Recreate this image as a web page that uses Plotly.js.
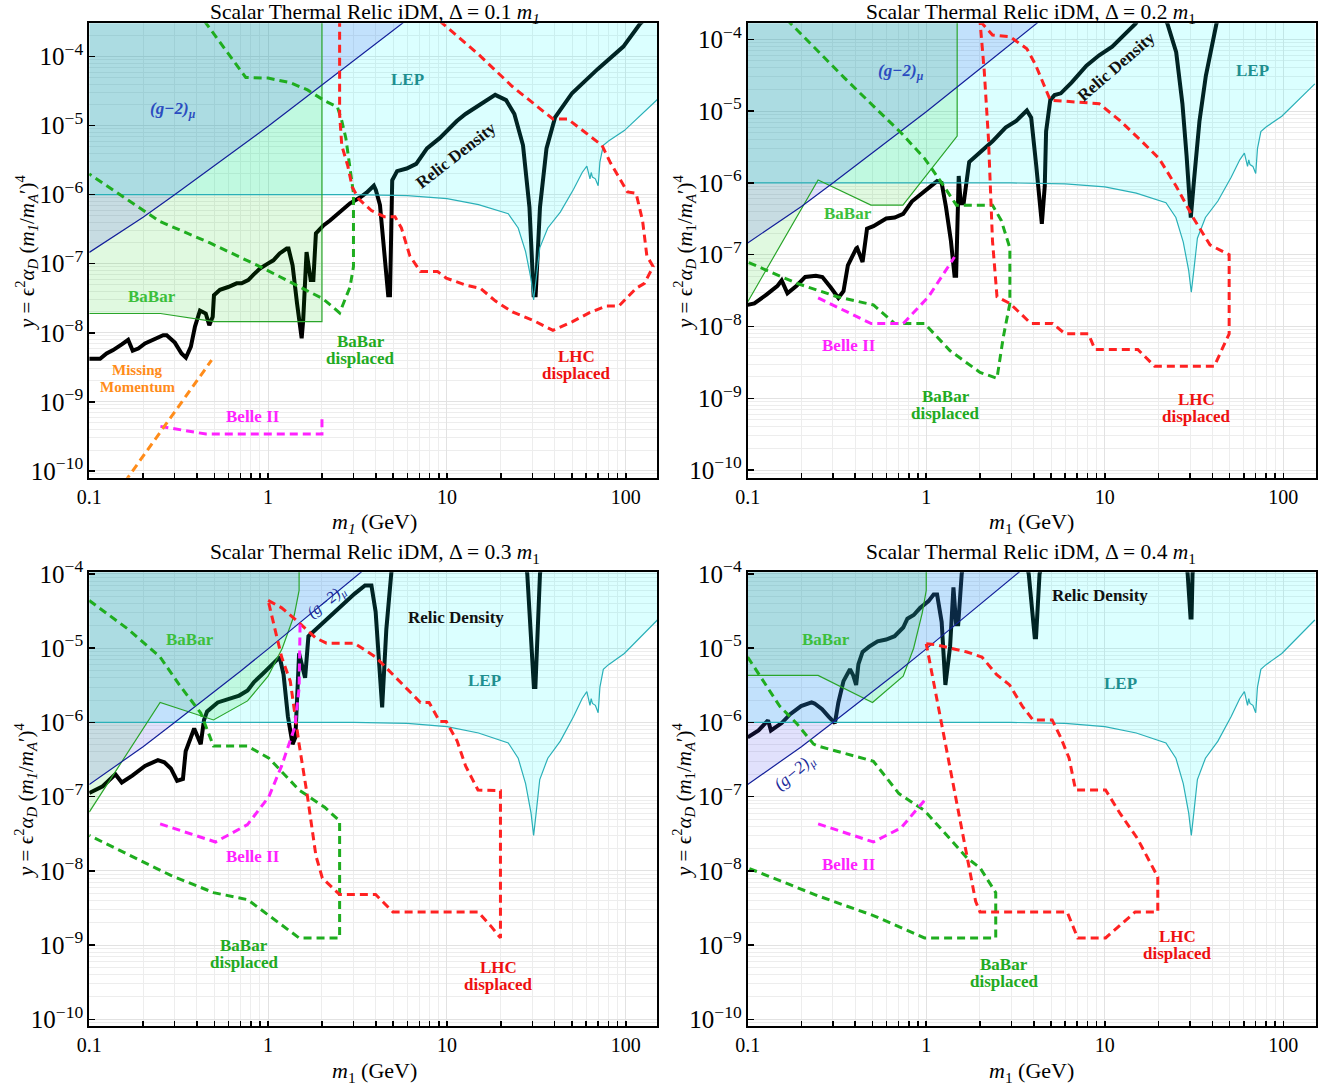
<!DOCTYPE html>
<html>
<head>
<meta charset="utf-8">
<script src="https://cdn.plot.ly/plotly-3.0.1.min.js"></script>
<style>
  html, body { margin: 0; padding: 0; background: #fff; }
  #chart { width: 1338px; height: 1089px; }
</style>
</head>
<body>
<div id="chart"></div>
<script>
// ---------- shared bounds (GeV, y) ----------
const lepMass = [0.1, 3, 6, 10, 15, 19, 22, 25, 27.5, 29.5, 30.5, 31.5, 33, 36.6, 43, 51, 57, 60.5, 62, 63, 64, 65, 67.5, 70, 71.6, 74.8, 80, 98, 150];
const lepY    = [1e-6, 1e-6, 9.7e-7, 8.8e-7, 7.2e-7, 6.0e-7, 5.3e-7, 3.3e-7, 1.5e-7, 6e-8, 3e-8, 6e-8, 1.7e-7, 3.3e-7, 5.6e-7, 1.2e-6, 2.1e-6, 2.6e-6, 2.1e-6, 1.7e-6, 2.1e-6, 1.8e-6, 1.7e-6, 1.35e-6, 3.0e-6, 5.2e-6, 6.0e-6, 8.5e-6, 2.4e-5];

const gm2Mass = [0.1, 0.15, 0.2, 0.3, 0.5, 0.7, 1, 2, 3, 5, 7];
const gm2Y    = [1.46e-7, 2.9e-7, 4.7e-7, 1.0e-6, 2.6e-6, 4.9e-6, 9.8e-6, 3.9e-5, 8.7e-5, 2.4e-4, 4.7e-4];

// ---------- Delta = 0.1 m1 ----------
const rel1X = [0.1, 0.115, 0.125, 0.136, 0.152, 0.165, 0.175, 0.188, 0.205, 0.233, 0.259, 0.271, 0.301, 0.328, 0.347, 0.37, 0.39, 0.416, 0.448, 0.469, 0.49, 0.498, 0.538, 0.598, 0.667, 0.711, 0.774, 0.826, 0.90, 0.98, 1.07, 1.16, 1.27, 1.30, 1.37, 1.45, 1.54, 1.57, 1.64, 1.73, 1.79, 1.85, 2.03, 2.21, 2.41, 2.63, 2.87, 3.26, 3.55, 3.90, 4.0, 4.22, 4.43, 4.69, 4.80, 4.94, 5.26, 5.95, 6.73, 7.73, 9.1, 10.2, 11.35, 12.7, 14.1, 15.8, 18.6, 21.4, 23.8, 26.6, 28.9, 30.5, 31.3, 33.1, 36.0, 40.2, 50.0, 69.5, 96.8, 120, 135];
const rel1Y = [4.2e-9, 4.2e-9, 5.0e-9, 5.6e-9, 6.8e-9, 7.9e-9, 5.5e-9, 5.9e-9, 7.0e-9, 8.1e-9, 9.2e-9, 9.2e-9, 7.2e-9, 5.0e-9, 4.35e-9, 6.3e-9, 1.23e-8, 2.1e-8, 1.9e-8, 1.29e-8, 1.7e-8, 3.5e-8, 4.2e-8, 4.6e-8, 5.2e-8, 5.2e-8, 5.8e-8, 6.9e-8, 8.5e-8, 9.8e-8, 1.12e-7, 1.41e-7, 1.66e-7, 1.66e-7, 9.5e-8, 2.7e-8, 8.3e-9, 1.5e-8, 1.48e-7, 5.8e-8, 5.8e-8, 2.76e-7, 3.55e-7, 4.2e-7, 5.1e-7, 6.3e-7, 7.5e-7, 9.1e-7, 1.07e-6, 1.35e-6, 1.17e-6, 7.1e-7, 1.77e-7, 3.5e-8, 3.5e-8, 1.62e-6, 2.2e-6, 2.4e-6, 2.8e-6, 4.7e-6, 6.6e-6, 8.9e-6, 1.17e-5, 1.48e-5, 1.77e-5, 2.2e-5, 2.8e-5, 2.35e-5, 1.48e-5, 5.2e-6, 6.6e-7, 3.5e-8, 3.5e-8, 6.6e-7, 4.7e-6, 1.32e-5, 2.96e-5, 6.6e-5, 1.4e-4, 3.0e-4, 4.0e-4];
const bb1X = [0.1, 0.25, 0.5, 2, 2];
const bb1Y = [1.9e-8, 1.9e-8, 1.45e-8, 1.45e-8, 4e-4];
const bbd1X = [0.44, 0.75, 1.0, 1.33, 1.66, 2.07, 2.44, 2.58, 2.72, 2.87, 3.0, 3.0, 3.0, 2.87, 2.64, 2.51, 2.03, 1.38, 0.9, 0.473, 0.248, 0.1];
const bbd1Y = [3.3e-4, 5.0e-5, 4.9e-5, 4.2e-5, 3.3e-5, 2.3e-5, 1.87e-5, 1.18e-5, 6.6e-6, 2.6e-6, 1.05e-6, 4.2e-7, 9.1e-8, 4.6e-8, 2.6e-8, 1.94e-8, 3.1e-8, 5.2e-8, 9.1e-8, 2.0e-7, 4.1e-7, 2.0e-6];
const lhc1X = [9.1, 14.9, 23.2, 30.5, 39.1, 47.3, 65.9, 73.5, 82, 102, 114, 124, 131, 142, 127, 114, 91.6, 77.7, 62.3, 50.0, 39.1, 30.5, 23.2, 18.6, 15.4, 12.7, 9.9, 8.86, 7.1, 6.2, 5.56, 5.12, 4.46, 3.78, 3.21, 2.95, 2.79, 2.58, 2.51, 2.51];
const lhc1Y = [3.3e-4, 1.1e-4, 3.7e-5, 2.1e-5, 1.25e-5, 1.25e-5, 6.6e-6, 5.2e-6, 2.9e-6, 1.1e-6, 1.05e-6, 4.2e-7, 1.3e-7, 9.1e-8, 5.2e-8, 4.4e-8, 2.45e-8, 2.45e-8, 1.94e-8, 1.44e-8, 1.08e-8, 1.5e-8, 2.0e-8, 2.9e-8, 4.4e-8, 4.9e-8, 6.2e-8, 7.7e-8, 7.7e-8, 1.3e-7, 3.3e-7, 4.8e-7, 4.8e-7, 5.9e-7, 8.7e-7, 1.3e-6, 2.6e-6, 5.2e-6, 1.48e-5, 3.3e-4];
const be1X = [0.25, 0.45, 2.0, 2.0];
const be1Y = [4.4e-10, 3.4e-10, 3.4e-10, 6.5e-10];
const mm1X = [0.158, 0.483];
const mm1Y = [6.9e-11, 4.0e-9];

// ---------- Delta = 0.2 m1 ----------
const rel2X = [0.1, 0.109, 0.128, 0.147, 0.155, 0.167, 0.188, 0.210, 0.241, 0.262, 0.292, 0.322, 0.344, 0.364, 0.406, 0.41, 0.44, 0.466, 0.506, 0.597, 0.666, 0.743, 0.83, 0.927, 1.06, 1.15, 1.22, 1.29, 1.375, 1.44, 1.47, 1.52, 1.56, 1.62, 1.74, 2.0, 2.35, 2.78, 3.19, 3.66, 3.87, 4.13, 4.44, 4.61, 4.69, 4.95, 5.23, 5.67, 6.51, 7.89, 9.3, 11.0, 12.9, 14.9, 16];
const rel2Y = [2.0e-8, 2.1e-8, 2.8e-8, 3.7e-8, 4.4e-8, 2.9e-8, 3.7e-8, 4.9e-8, 5.1e-8, 4.9e-8, 3.5e-8, 2.5e-8, 3.1e-8, 7.1e-8, 1.23e-7, 1.25e-7, 7.9e-8, 2.3e-7, 2.5e-7, 3.2e-7, 3.3e-7, 3.7e-7, 5.5e-7, 6.9e-7, 9e-7, 1.06e-6, 1.0e-6, 4.6e-7, 1.55e-7, 5.1e-8, 5.1e-8, 1.25e-6, 5.2e-7, 5.2e-7, 1.95e-6, 2.7e-6, 3.8e-6, 5.9e-6, 7.3e-6, 1.02e-5, 8.1e-6, 1.74e-6, 2.7e-7, 9e-7, 5.2e-6, 1.42e-5, 1.67e-5, 1.77e-5, 2.5e-5, 4.3e-5, 6e-5, 7.9e-5, 1.15e-4, 1.66e-4, 2.2e-4];
const rel2bX = [21.0, 22.4, 25.1, 27.2, 28.7, 29.8, 30.3, 31.6, 33.9, 36.8, 42.2, 44.5];
const rel2bY = [2.2e-4, 1.66e-4, 6.6e-5, 1.27e-5, 2.4e-6, 4.7e-7, 3.3e-7, 1.1e-6, 7.3e-6, 3.1e-5, 1.66e-4, 2.2e-4];
const bb2X = [0.1, 0.248, 0.49, 0.74, 1.49, 1.49];
const bb2Y = [2.2e-8, 1.1e-6, 4.9e-7, 4.9e-7, 4.5e-6, 2e-4];
const bbd2X = [0.165, 0.348, 0.722, 0.978, 1.22, 1.476, 2.35, 2.63, 2.94, 2.94, 2.70, 2.49, 2.0, 1.36, 0.978, 0.666, 0.506, 0.317, 0.188, 0.1];
const bbd2Y = [1.9e-4, 2.9e-5, 5.0e-6, 2.2e-6, 1.0e-6, 4.9e-7, 4.9e-7, 3.0e-7, 1.24e-7, 2.1e-8, 7.1e-9, 1.9e-9, 2.3e-9, 4.6e-9, 1.1e-8, 1.1e-8, 2.0e-8, 2.6e-8, 4.0e-8, 7.9e-8];
const lhc2X = [2.0, 2.35, 2.94, 3.66, 4.08, 4.95, 9.3, 12.2, 16.1, 20.1, 25.1, 31.2, 38.8, 49.7, 49.7, 41.0, 19.0, 15.3, 8.8, 8.1, 6.0, 5.1, 3.86, 2.94, 2.49, 2.35, 2.23, 2.11, 2.0];
const lhc2Y = [1.8e-4, 1.15e-4, 1.09e-4, 7.4e-5, 4.5e-5, 1.42e-5, 1.27e-5, 7.3e-6, 3.8e-6, 2.2e-6, 9e-7, 3.3e-7, 1.37e-7, 1.0e-7, 7.9e-9, 2.8e-9, 2.8e-9, 4.8e-9, 4.8e-9, 7.9e-9, 7.9e-9, 1.1e-8, 1.1e-8, 2.1e-8, 2.6e-8, 1.55e-7, 4.2e-6, 3.8e-5, 1.8e-4];
const be2X = [0.248, 0.492, 0.743, 1.03, 1.44];
const be2Y = [2.5e-8, 1.1e-8, 1.1e-8, 2.6e-8, 9.3e-8];

// ---------- Delta = 0.3 m1 ----------
const rel3X = [0.1, 0.119, 0.14, 0.152, 0.174, 0.205, 0.242, 0.263, 0.286, 0.31, 0.334, 0.346, 0.386, 0.42, 0.438, 0.456, 0.523, 0.6, 0.689, 0.768, 0.834, 0.931, 1.07, 1.16, 1.22, 1.29, 1.37, 1.42, 1.49, 1.61, 1.68, 1.85, 2.18, 2.58, 3.04, 3.48, 3.78, 3.99, 4.34, 4.58, 4.84, 4.95];
const rel3Y = [1.12e-7, 1.38e-7, 2.0e-7, 1.55e-7, 1.92e-7, 2.6e-7, 3.1e-7, 2.9e-7, 2.4e-7, 1.63e-7, 1.73e-7, 4.1e-7, 8.3e-7, 5.1e-7, 1.08e-6, 1.41e-6, 1.86e-6, 2.1e-6, 2.3e-6, 2.7e-6, 3.5e-6, 4.5e-6, 6.2e-6, 7.6e-6, 4.4e-6, 1.2e-6, 5.1e-7, 6.3e-7, 8.5e-6, 4.0e-6, 1.45e-5, 1.8e-5, 2.6e-5, 3.9e-5, 5.4e-5, 7e-5, 7e-5, 3.1e-5, 1.59e-6, 1.8e-5, 1.0e-4, 1.5e-4];
const rel3bX = [27.6, 28.1, 30.6, 31.2, 33.1, 33.7];
const rel3bY = [1.4e-4, 1.0e-4, 3.0e-6, 3.0e-6, 1.0e-4, 1.4e-4];
const bb3X = [0.1, 0.249, 0.495, 0.767, 1.0, 1.2, 1.4, 1.49, 1.49];
const bb3Y = [6.2e-8, 1.86e-6, 1.08e-6, 1.95e-6, 4.2e-6, 1.0e-5, 2.8e-5, 6e-5, 2e-4];
const bbd3X = [0.1, 0.165, 0.249, 0.319, 0.42, 0.495, 0.767, 1.01, 1.49, 2.07, 2.51, 2.51, 1.49, 0.767, 0.495, 0.286, 0.165, 0.1];
const bbd3Y = [4.4e-5, 1.8e-5, 7.6e-6, 3.2e-6, 1.34e-6, 4.8e-7, 4.8e-7, 3.3e-7, 1.23e-7, 7.2e-8, 4.7e-8, 1.25e-9, 1.25e-9, 4.1e-9, 5.1e-9, 8.7e-9, 1.66e-8, 3.0e-8];
const lhc3X = [1.0, 1.19, 1.49, 1.85, 2.12, 3.03, 3.99, 5.4, 7.1, 7.94, 9.1, 9.9, 11.4, 12.7, 14.9, 19.9, 19.9, 17.6, 14.9, 4.98, 3.99, 2.51, 2.01, 1.85, 1.66, 1.49, 1.33, 1.19, 1.07, 1.0];
const lhc3Y = [4.4e-5, 3.5e-5, 2.2e-5, 1.37e-5, 1.17e-5, 1.17e-5, 7.6e-6, 3.6e-6, 1.86e-6, 1.86e-6, 1.03e-6, 1.03e-6, 5.6e-7, 2.6e-7, 1.23e-7, 1.2e-7, 1.25e-9, 1.8e-9, 2.8e-9, 2.8e-9, 4.8e-9, 4.8e-9, 8e-9, 1.6e-8, 1.0e-7, 5.1e-7, 3.6e-6, 7.6e-6, 2.2e-5, 4.4e-5];
const be3X = [0.249, 0.508, 0.767, 1.01, 1.19, 1.41, 1.49, 1.51];
const be3Y = [4.3e-8, 2.45e-8, 4.2e-8, 1.0e-7, 2.6e-7, 8.7e-7, 2.9e-6, 2.4e-5];

// ---------- Delta = 0.4 m1 ----------
const rel4X = [0.1, 0.115, 0.13, 0.135, 0.155, 0.173, 0.199, 0.228, 0.237, 0.261, 0.284, 0.308, 0.322, 0.344, 0.374, 0.39, 0.405, 0.417, 0.44, 0.479, 0.534, 0.596, 0.665, 0.743, 0.784, 0.851, 0.925, 1.03, 1.10, 1.15, 1.22, 1.28, 1.36, 1.42, 1.47, 1.51, 1.58, 1.62];
const rel4Y = [6.3e-7, 7.8e-7, 1.07e-6, 7.8e-7, 9.8e-7, 1.29e-6, 1.66e-6, 1.86e-6, 1.8e-6, 1.51e-6, 1.2e-6, 9.8e-7, 1.86e-6, 3.6e-6, 5.2e-6, 4.3e-6, 3.2e-6, 6.1e-6, 8.9e-6, 1.05e-5, 1.24e-5, 1.31e-5, 1.45e-5, 1.9e-5, 2.5e-5, 2.8e-5, 3.5e-5, 4.3e-5, 5.3e-5, 5.3e-5, 2.25e-5, 3.2e-6, 1.05e-5, 6.6e-5, 2.1e-5, 2.1e-5, 1.0e-4, 1.5e-4];
const rel4bX = [3.6, 3.75, 4.05, 4.12, 4.31, 4.5];
const rel4bY = [1.5e-4, 1.0e-4, 1.4e-5, 1.4e-5, 1.0e-4, 1.5e-4];
const rel4cX = [28.6, 29.1, 30.2, 30.6, 31.0, 31.5];
const rel4cY = [1.5e-4, 1.0e-4, 2.6e-5, 2.6e-5, 1.0e-4, 1.5e-4];
const bb4X = [0.1, 0.248, 0.5, 0.743, 0.85, 0.95, 1.0, 1.0];
const bb4Y = [4.3e-6, 4.3e-6, 1.86e-6, 4.2e-6, 1.0e-5, 3.0e-5, 6e-5, 2e-4];
const bbd4X = [0.1, 0.151, 0.188, 0.234, 0.248, 0.506, 0.703, 0.977, 1.36, 1.69, 2.0, 2.45, 2.45, 0.977, 0.506, 0.248, 0.1];
const bbd4Y = [7.6e-6, 1.66e-6, 9.7e-7, 5.1e-7, 4.8e-7, 3.0e-7, 1.1e-7, 6.5e-8, 2.7e-8, 1.5e-8, 1.1e-8, 5.1e-9, 1.25e-9, 1.25e-9, 2.5e-9, 4.6e-9, 1.1e-8];
const lhc4X = [1.0, 1.12, 1.69, 2.05, 2.48, 2.93, 3.45, 3.96, 5.07, 5.66, 6.31, 6.86, 10.1, 12.2, 15.2, 17.9, 19.8, 19.8, 14.8, 10.1, 7.05, 6.15, 2.0, 1.89, 1.69, 1.52, 1.36, 1.22, 1.06, 1.0];
const lhc4Y = [1.15e-5, 1.12e-5, 8.9e-6, 7.6e-6, 4.4e-6, 3.2e-6, 1.66e-6, 1.08e-6, 1.08e-6, 6.3e-7, 3.3e-7, 1.23e-7, 1.23e-7, 5.9e-8, 2.75e-8, 1.29e-8, 8.3e-9, 2.8e-9, 2.8e-9, 1.25e-9, 1.25e-9, 2.8e-9, 2.8e-9, 3.9e-9, 1.58e-8, 5.9e-8, 2.6e-7, 9.8e-7, 5.5e-6, 1.15e-5];
const be4X = [0.248, 0.506, 0.723, 0.875, 1.0];
const be4Y = [4.3e-8, 2.45e-8, 3.8e-8, 6.5e-8, 9.5e-8];

// ---------- styling ----------
const FONT = 'Liberation Serif, Times New Roman, serif';
const CEIL = 1;                      // excluded regions are closed far above the visible range
const FILL_LEP = 'rgba(0,255,255,0.14)';
const FILL_BABAR = 'rgba(0,205,0,0.12)';
const FILL_G2 = 'rgba(70,70,235,0.16)';
const C_LEP = '#2ab0b8', C_BABAR = '#2aa52a', C_G2 = '#14209a';
const C_BBD = '#1fad1f', C_LHC = '#ff2222', C_BELLE = '#ff22ff', C_MM = '#ff8c1a';
const DASH = '8px,5px';

const panels = [
  { ax: ['x', 'y'],   xdom: [0.0667, 0.4913], ydom: [0.5613, 0.9786], xr: [-1, 2.176], yr: [-10.101, -3.516],
    relic: [[rel1X, rel1Y]], babar: [bb1X, bb1Y], bbd: [bbd1X, bbd1Y], lhc: [lhc1X, lhc1Y], belle: [be1X, be1Y], mm: [mm1X, mm1Y] },
  { ax: ['x2', 'y2'], xdom: [0.5588, 0.9836], ydom: [0.5613, 0.9786], xr: [-1, 2.183], yr: [-10.106, -3.777],
    relic: [[rel2X, rel2Y], [rel2bX, rel2bY]], babar: [bb2X, bb2Y], bbd: [bbd2X, bbd2Y], lhc: [lhc2X, lhc2Y], belle: [be2X, be2Y] },
  { ax: ['x3', 'y3'], xdom: [0.0667, 0.4913], ydom: [0.0581, 0.4745], xr: [-1, 2.176], yr: [-10.086, -3.977],
    relic: [[rel3X, rel3Y], [rel3bX, rel3bY]], babar: [bb3X, bb3Y], bbd: [bbd3X, bbd3Y], lhc: [lhc3X, lhc3Y], belle: [be3X, be3Y] },
  { ax: ['x4', 'y4'], xdom: [0.5588, 0.9836], ydom: [0.0581, 0.4745], xr: [-1, 2.183], yr: [-10.086, -3.977],
    relic: [[rel4X, rel4Y], [rel4bX, rel4bY], [rel4cX, rel4cY]], babar: [bb4X, bb4Y], bbd: [bbd4X, bbd4Y], lhc: [lhc4X, lhc4Y], belle: [be4X, be4Y] }
];

function regionAbove(xs, ys, color, ax) {
  return {
    x: xs.concat([xs[xs.length - 1], xs[0]]),
    y: ys.concat([CEIL, CEIL]),
    xaxis: ax[0], yaxis: ax[1], type: 'scatter', mode: 'lines',
    fill: 'toself', fillcolor: color, line: { width: 0 }, hoverinfo: 'skip'
  };
}
function curve(xs, ys, color, width, dash, ax) {
  return {
    x: xs, y: ys, xaxis: ax[0], yaxis: ax[1], type: 'scatter', mode: 'lines',
    line: { color: color, width: width, dash: dash || 'solid' }, hoverinfo: 'skip'
  };
}

const traces = [];
const layout = {
  width: 1338, height: 1089,
  margin: { l: 0, r: 0, t: 0, b: 0 },
  paper_bgcolor: '#fff', plot_bgcolor: '#fff',
  showlegend: false, hovermode: false,
  annotations: []
};

panels.forEach((p, i) => {
  const ax = p.ax;
  // relic-density curve goes first so the translucent regions tint it
  p.relic.forEach(r => traces.push(curve(r[0], r[1], '#000', 4, null, ax)));
  traces.push(regionAbove(lepMass, lepY, FILL_LEP, ax));
  traces.push(regionAbove(p.babar[0], p.babar[1], FILL_BABAR, ax));
  traces.push(regionAbove(gm2Mass, gm2Y, FILL_G2, ax));
  traces.push(curve(lepMass, lepY, C_LEP, 1.2, null, ax));
  traces.push(curve(p.babar[0], p.babar[1], C_BABAR, 1.2, null, ax));
  traces.push(curve(gm2Mass, gm2Y, C_G2, 1.2, null, ax));
  traces.push(curve(p.bbd[0], p.bbd[1], C_BBD, 3, DASH, ax));
  traces.push(curve(p.lhc[0], p.lhc[1], C_LHC, 3, DASH, ax));
  traces.push(curve(p.belle[0], p.belle[1], C_BELLE, 3, DASH, ax));
  if (p.mm) traces.push(curve(p.mm[0], p.mm[1], C_MM, 3, DASH, ax));

  const xname = 'xaxis' + (i ? i + 1 : '');
  const yname = 'yaxis' + (i ? i + 1 : '');
  layout[xname] = {
    type: 'log', domain: p.xdom, anchor: ax[1], range: p.xr,
    showline: true, mirror: true, linecolor: '#000', linewidth: 2,
    ticks: 'inside', ticklen: 5, tickwidth: 1.5, tickcolor: '#000',
    tickmode: 'linear', tick0: 0, dtick: 1, exponentformat: 'none',
    showgrid: true, gridcolor: '#e2e2e2', gridwidth: 1, zeroline: false,
    tickfont: { family: FONT, size: 20, color: '#000' },
    minor: { dtick: 'D1', ticks: 'inside', ticklen: 5, tickwidth: 1.5, tickcolor: '#000', showgrid: true, gridcolor: '#ededed', gridwidth: 1 }
  };
  layout[yname] = {
    type: 'log', domain: p.ydom, anchor: ax[0], range: p.yr,
    showline: true, mirror: true, linecolor: '#000', linewidth: 2,
    ticks: 'inside', ticklen: 6, tickwidth: 1.5, tickcolor: '#000',
    tickmode: 'linear', tick0: 0, dtick: 1, exponentformat: 'power',
    showgrid: true, gridcolor: '#e2e2e2', gridwidth: 1, zeroline: false,
    tickfont: { family: FONT, size: 20, color: '#000' },
    minor: { dtick: 'D1', ticks: '', showgrid: true, gridcolor: '#ededed', gridwidth: 1 }
  };
});

// ---------- titles ----------
const W = 1338, H = 1089;
function paperText(text, px, py, size, angle) {
  layout.annotations.push({
    xref: 'paper', yref: 'paper', x: px / W, y: 1 - py / H,
    xanchor: 'center', yanchor: 'middle', showarrow: false,
    text: text, textangle: angle || 0, borderpad: 0,
    font: { family: FONT, size: size, color: '#000' }
  });
}
const titles = [
  'Scalar Thermal Relic iDM, Δ = 0.1 <i>m</i><sub><i>1</i></sub>',
  'Scalar Thermal Relic iDM, Δ = 0.2 <i>m</i><sub>1</sub>',
  'Scalar Thermal Relic iDM, Δ = 0.3 <i>m</i><sub>1</sub>',
  'Scalar Thermal Relic iDM, Δ = 0.4 <i>m</i><sub>1</sub>'
];
const xTitles = ['<i>m</i><sub><i>1</i></sub> (GeV)', '<i>m</i><sub>1</sub> (GeV)', '<i>m</i><sub>1</sub> (GeV)', '<i>m</i><sub>1</sub> (GeV)'];
const yTitleA = '<i>y</i> = ϵ<sup>2</sup><i>α</i><sub><i>D</i></sub> (<i>m</i><sub><i>1</i></sub>/<i>m</i><sub><i>A</i></sub>′)<sup>4</sup>';
const yTitleB = '<i>y</i> = ϵ<sup>2</sup><i>α</i><sub><i>D</i></sub> (<i>m</i><sub>1</sub>/<i>m</i><sub><i>A</i></sub>′)<sup>4</sup>';
const centers = [375, 1031, 375, 1031];
const tops = [14, 14, 553, 553];
const xTitleY = [523, 523, 1072, 1072];
const yTitleY = [252, 252, 800, 800];
const yTitleX = [26, 684, 26, 684];
for (let i = 0; i < 4; i++) {
  paperText(titles[i], centers[i], tops[i], 21.5);
  paperText(xTitles[i], centers[i], xTitleY[i], 22);
  paperText(i % 2 === 0 ? yTitleA : yTitleB, yTitleX[i], yTitleY[i], 21, -90);
}

// ---------- region / curve labels ----------
function label(panel, text, x, y, color, size, angle, yshift) {
  const s = panel === 1 ? '' : String(panel);
  layout.annotations.push({
    xref: 'x' + s, yref: 'y' + s, x: Math.log10(x), y: Math.log10(y),
    xanchor: 'center', yanchor: 'middle', showarrow: false, borderpad: 0,
    text: text, textangle: angle || 0, yshift: yshift || 0,
    font: { family: FONT, size: size, color: color }
  });
}
function label2(panel, a, b, x, y, color, size) {
  label(panel, a, x, y, color, size, 0, 8.5);
  label(panel, b, x, y, color, size, 0, -8.5);
}
const T_LEP = '#1f8f8f', T_G2 = '#2b4cc0', T_G2R = '#1a2a9a', T_BABAR = '#3cbf3c', T_BBD = '#22aa22', T_LHC = '#ee1111', T_BELLE = '#ff22ff', T_MM = '#ff8c1a';
const G2TEXT = '<i>(g−2)</i><sub><i>μ</i></sub>';

// Δ = 0.1
label(1, '<b>LEP</b>', 6.0, 4.6e-5, T_LEP, 17);
label(1, '<b>' + G2TEXT + '</b>', 0.294, 1.7e-5, T_G2, 17);
label(1, '<b>Relic Density</b>', 11.2, 3.7e-6, '#111', 17, -38);
label(1, '<b>BaBar</b>', 0.224, 3.4e-8, T_BABAR, 17);
label2(1, '<b>BaBar</b>', '<b>displaced</b>', 3.3, 5.6e-9, T_BBD, 17);
label2(1, '<b>LHC</b>', '<b>displaced</b>', 53, 3.4e-9, T_LHC, 17);
label2(1, '<b>Missing</b>', '<b>Momentum</b>', 0.185, 2.2e-9, T_MM, 15);
label(1, '<b>Belle II</b>', 0.82, 6.2e-10, T_BELLE, 17);

// Δ = 0.2
label(2, '<b>' + G2TEXT + '</b>', 0.724, 3.5e-5, T_G2, 17);
label(2, '<b>LEP</b>', 67, 3.7e-5, T_LEP, 17);
label(2, '<b>Relic Density</b>', 11.6, 4.2e-5, '#111', 17, -41);
label(2, '<b>BaBar</b>', 0.365, 3.7e-7, T_BABAR, 17);
label(2, '<b>Belle II</b>', 0.37, 5.4e-9, T_BELLE, 17);
label2(2, '<b>BaBar</b>', '<b>displaced</b>', 1.29, 8.1e-10, T_BBD, 17);
label2(2, '<b>LHC</b>', '<b>displaced</b>', 32.5, 7.4e-10, T_LHC, 17);

// Δ = 0.3
label(3, '<b>BaBar</b>', 0.366, 1.29e-5, T_BABAR, 17);
label(3, G2TEXT, 2.13, 4.2e-5, T_G2R, 16, -38);
label(3, '<b>Relic Density</b>', 11.2, 2.6e-5, '#111', 17);
label(3, '<b>LEP</b>', 16.3, 3.7e-6, T_LEP, 17);
label(3, '<b>Belle II</b>', 0.82, 1.55e-8, T_BELLE, 17);
label2(3, '<b>BaBar</b>', '<b>displaced</b>', 0.735, 7.7e-10, T_BBD, 17);
label2(3, '<b>LHC</b>', '<b>displaced</b>', 19.5, 3.8e-10, T_LHC, 17);

// Δ = 0.4
label(4, '<b>BaBar</b>', 0.275, 1.29e-5, T_BABAR, 17);
label(4, '<b>Relic Density</b>', 9.4, 5.2e-5, '#111', 17);
label(4, '<b>LEP</b>', 12.2, 3.3e-6, T_LEP, 17);
label(4, G2TEXT, 0.184, 2.1e-7, T_G2R, 17, -40);
label(4, '<b>Belle II</b>', 0.37, 1.23e-8, T_BELLE, 17);
label2(4, '<b>BaBar</b>', '<b>displaced</b>', 2.73, 4.2e-10, T_BBD, 17);
label2(4, '<b>LHC</b>', '<b>displaced</b>', 25.5, 1.0e-9, T_LHC, 17);

Plotly.newPlot('chart', traces, layout, { staticPlot: true, displayModeBar: false });
</script>
</body>
</html>
